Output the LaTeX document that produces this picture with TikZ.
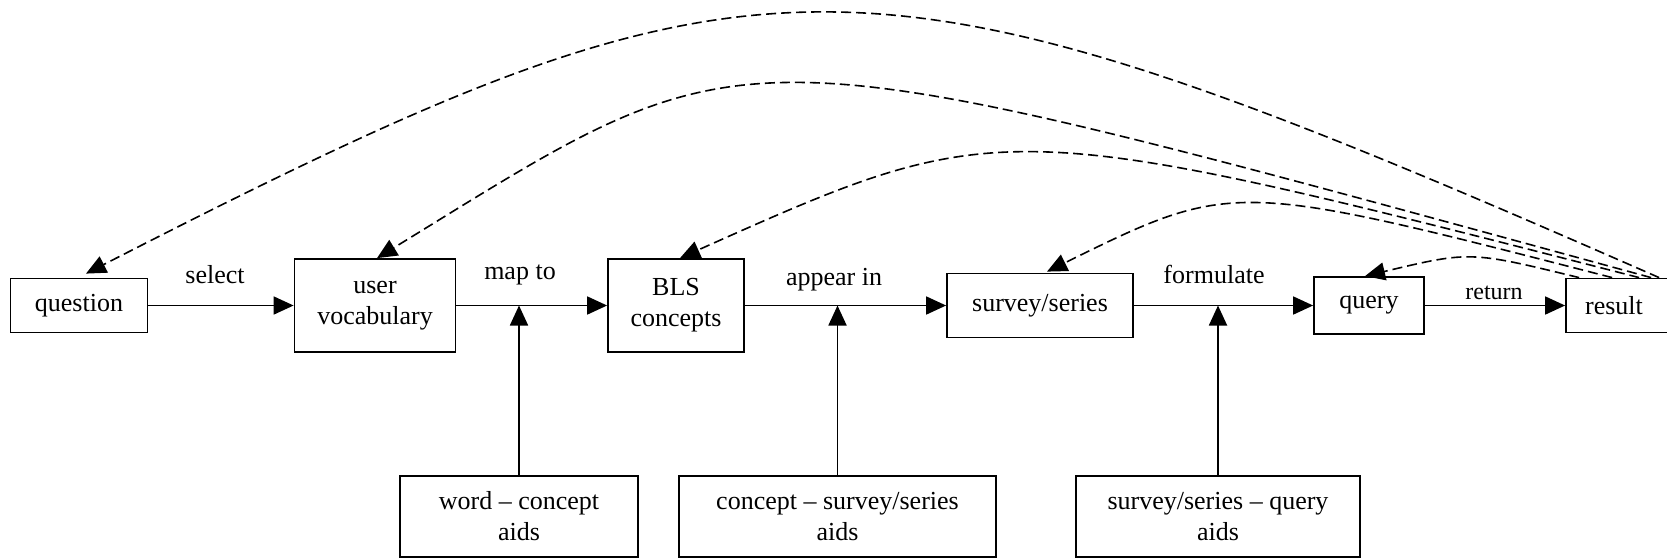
\documentclass[tikz,border=0pt]{standalone}
\usepackage{fontspec}
\setmainfont{Liberation Serif}
\usetikzlibrary{arrows.meta,calc}
\begin{document}
\begin{tikzpicture}[x=1pt,y=-1pt,
  box/.style={draw,line width=1.8pt,inner sep=0pt,align=center,font=\fontsize{26}{31}\selectfont},
  lbl/.style={inner sep=0pt,anchor=base,font=\fontsize{26}{31}\selectfont},
  fwd/.style={line width=1.8pt,-{Triangle[length=20pt,width=18pt]}},
  back/.style={line width=1.6pt,dash pattern=on 10pt off 5pt,-{Triangle[length=20pt,width=18pt]}}]
\useasboundingbox (0,0) rectangle (1667,558);
\fill[white] (0,0) rectangle (1667,558);
% main row
\node[box,minimum width=137pt,minimum height=54pt] (q) at (79,305.5) {question};
\node[box,minimum width=161pt,minimum height=93pt] (uv) at (375,305.5) {user\\vocabulary};
\node[box,minimum width=136pt,minimum height=93pt] (bls) at (676,305.5) {BLS\\concepts};
\node[box,minimum width=186pt,minimum height=64pt] (ss) at (1040,305.5) {survey/series};
\node[box,minimum width=110pt,minimum height=57pt] (qry) at (1369,305.5) {query};
\node[box,minimum width=120pt,minimum height=54pt] (res) at (1626,305.5) {\hspace*{-24pt}result};
% aids
\node[box,minimum width=238pt,minimum height=81pt] (a1) at (519,516.5) {word – concept\\aids};
\node[box,minimum width=317pt,minimum height=81pt] (a2) at (837.5,516.5) {concept – survey/series\\aids};
\node[box,minimum width=284pt,minimum height=81pt] (a3) at (1218,516.5) {survey/series – query\\aids};
% labels
\node[lbl] (l1) at (215,283) {select};
\node[lbl] (l2) at (520,279) {map to};
\node[lbl] (l3) at (834,285) {appear in};
\node[lbl] (l4) at (1214,283) {formulate};
\node[lbl,font=\fontsize{24}{29}\selectfont] (l5) at (1494,299) {return};
% forward arrows
\draw[fwd] (q.east) -- (uv.west);
\draw[fwd] (uv.east) -- (bls.west);
\draw[fwd] (bls.east) -- (ss.west);
\draw[fwd] (ss.east) -- (qry.west);
\draw[fwd] (qry.east) -- (res.west);
\draw[fwd] (a1.north) -- (a1.north |- uv.east);
\draw[fwd] (a2.north) -- (a2.north |- bls.east);
\draw[fwd] (a3.north) -- (a3.north |- ss.east);
% feedback arcs
\draw[back] ([xshift=94pt]res.north west) .. controls (858,-74) and (767,-75) .. ([xshift=7pt,yshift=4pt]q.north);
\draw[back] ([xshift=86pt]res.north west) .. controls (713,22) and (760,23) .. ([xshift=2pt]uv.north);
\draw[back] ([xshift=74pt]res.north west) .. controls (1003,114) and (1000,115) .. ([xshift=4pt]bls.north);
\draw[back] ([xshift=47pt]res.north west) .. controls (1233,180) and (1233,180) .. ([xshift=7pt,yshift=1pt]ss.north);
\draw[back] ([xshift=14pt]res.north west) .. controls (1470,251) and (1470,251) .. ([xshift=-4pt]qry.north);
\end{tikzpicture}
\end{document}
